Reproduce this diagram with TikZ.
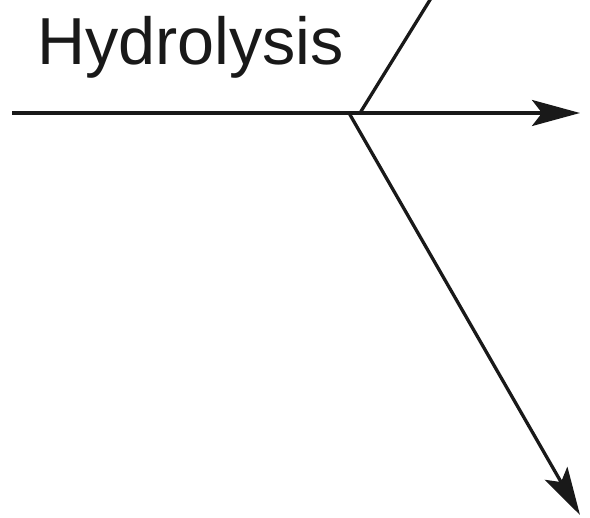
\documentclass[tikz,border=0pt]{standalone}
\usepackage{fontspec}
\setmainfont{Liberation Sans}
\usetikzlibrary{arrows.meta}
\tikzset{
  flow/.style={line width=3.3pt, draw=black!90},
  tip/.style={-{Stealth[length=48pt, width=26pt, inset=10pt]}},
  lbl/.style={inner sep=0pt, font=\fontsize{66.5}{72}\selectfont, text=black!90}
}
\begin{document}
\begin{tikzpicture}[x=1pt,y=-1pt]
\useasboundingbox (0,0) rectangle (590,518);
\clip (0,0) rectangle (590,518);
\coordinate (start) at (12,113);
\coordinate (end) at (580,113);
\coordinate (jup) at (360,113);
\coordinate (top) at (433,-5);
\coordinate (jdown) at (349,113);
\coordinate (bottom) at (580,515);
\draw[flow] (start) -- (jup);
\draw[flow, tip] (jup) -- (end);
\draw[flow] (jup) -- (top);
\draw[flow, tip] (jdown) -- (bottom);
\node[lbl, anchor=base west] (hyd) at (37,65) {Hydrolysis};
\end{tikzpicture}
\end{document}
